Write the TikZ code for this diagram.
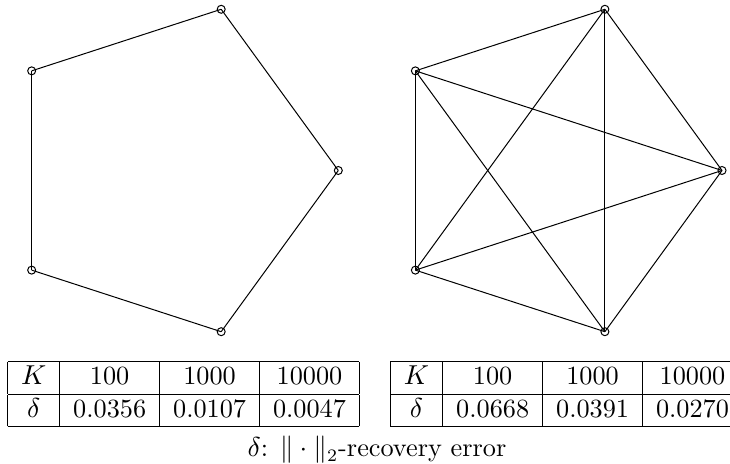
\documentclass[tikz,border=0pt]{standalone}
\usetikzlibrary{positioning}
\setlength{\tabcolsep}{5.4pt}
\begin{document}
\begin{tikzpicture}[
  x=0.4pt, y=0.4pt,
  vert/.style={draw, circle, inner sep=0pt, minimum size=3.2pt},
  edge/.style={draw, line width=0.4pt},
  tbl/.style={inner sep=0pt, anchor=north west, font=\fontsize{10.5}{12.6}\selectfont},
  lbl/.style={inner sep=0pt, anchor=base, font=\fontsize{10.5}{12.6}\selectfont}
]
\useasboundingbox (0,0) rectangle (730,464);
% left graph: the 5-cycle
\foreach \i in {0,...,4}
  \node[vert] (a\i) at ([shift={(168.8,293.5)}]72*\i:169.5) {};
\foreach \i [evaluate=\i as \j using {int(mod(\i+1,5))}] in {0,...,4}
  \draw[edge] (a\i.center) -- (a\j.center);
% right graph: complete graph on 5 vertices
\foreach \i in {0,...,4}
  \node[vert] (b\i) at ([shift={(552.5,293.5)}]72*\i:169.5) {};
\foreach \i in {0,...,3}{
  \pgfmathtruncatemacro\nxt{\i+1}
  \foreach \j in {\nxt,...,4}
    \draw[edge] (b\i.center) -- (b\j.center);
}
% error tables
\node[tbl] (tabL) at (7,103) {%
  \begin{tabular}{|c|c|c|c|}\hline
  $K$ & 100 & 1000 & 10000\\\hline
  $\delta$ & 0.0356 & 0.0107 & 0.0047\\\hline
  \end{tabular}};
\node[tbl, right=12pt of tabL] (tabR) {%
  \begin{tabular}{|c|c|c|c|}\hline
  $K$ & 100 & 1000 & 10000\\\hline
  $\delta$ & 0.0668 & 0.0391 & 0.0270\\\hline
  \end{tabular}};
\node[lbl] (cap) at (377,7)
  {$\delta$: $\|\cdot\|_2$-recovery error};
\end{tikzpicture}
\end{document}
